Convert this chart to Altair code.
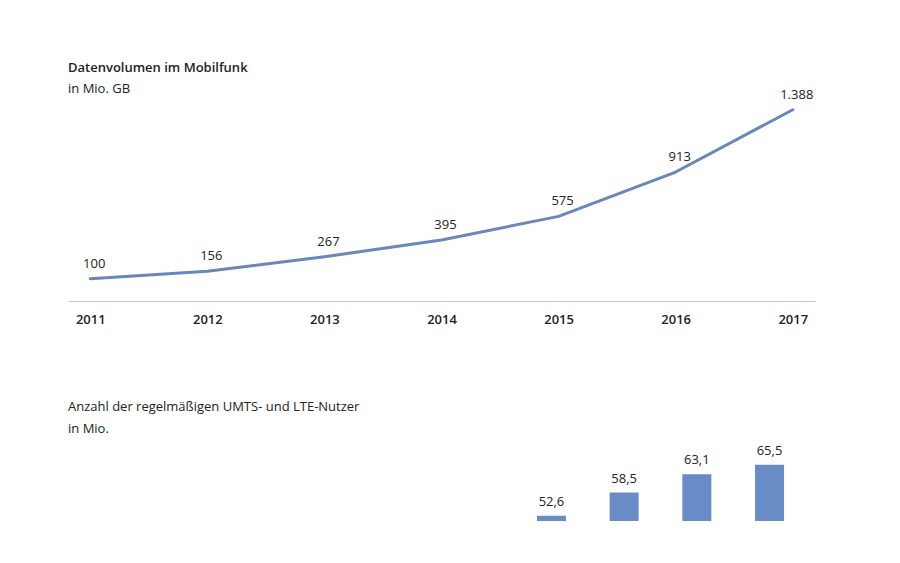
import altair as alt
import pandas as pd

years = [2011, 2012, 2013, 2014, 2015, 2016, 2017]
volume = [100, 156, 267, 395, 575, 913, 1388]
volume_labels = ["100", "156", "267", "395", "575", "913", "1.388"]

user_years = [2014, 2015, 2016, 2017]
users = [52.6, 58.5, 63.1, 65.5]
user_labels = ["52,6", "58,5", "63,1", "65,5"]

FONT = "Open Sans"
LINE_COLOR = "#6b86b8"
BAR_COLOR = "#6a8cc6"

df1 = pd.DataFrame({"year": [str(y) for y in years], "value": volume, "label": volume_labels})
df2 = pd.DataFrame({"year": user_years, "value": users, "label": user_labels})

x1 = alt.X("year:O", scale=alt.Scale(type="point", padding=0.19),
           axis=alt.Axis(title=None, labelAngle=0, ticks=False, domainColor="#c8c8c8",
                         domainWidth=1.2, labelPadding=12, labelFont=FONT, labelFontSize=13,
                         labelFontWeight=600, labelColor="#222222", grid=False))
y1 = alt.Y("value:Q", scale=alt.Scale(domain=[-70, 1424], nice=False, zero=False), axis=None)

line = alt.Chart(df1).mark_line(color=LINE_COLOR, strokeWidth=3, interpolate="linear",
                                strokeJoin="round", strokeCap="round").encode(x=x1, y=y1)
txt1 = alt.Chart(df1).mark_text(dy=-15, dx=4, font=FONT, fontSize=13, color="#222222").encode(
    x=x1, y=y1, text="label:N")

top = alt.layer(line, txt1).properties(
    width=747, height=196,
    title=alt.TitleParams("Datenvolumen im Mobilfunk", subtitle="in Mio. GB", anchor="start",
                          font=FONT, fontSize=13, fontWeight=600, color="#222222",
                          subtitleFont=FONT, subtitleFontSize=13, subtitleColor="#222222",
                          subtitlePadding=8, offset=-7))

x2 = alt.X("year:Q", scale=alt.Scale(domain=[2007.417, 2017.557], nice=False, zero=False), axis=None)
y2 = alt.Y("value:Q", scale=alt.Scale(domain=[51.3, 70], nice=False, zero=False), axis=None)

bars = alt.Chart(df2).mark_bar(color=BAR_COLOR, size=29, clip=True).encode(x=x2, y=y2)
txt2 = alt.Chart(df2).mark_text(dy=-7, font=FONT, fontSize=13, color="#222222", baseline="bottom").encode(
    x=x2, y=y2, text="label:N")

bottom = alt.layer(bars, txt2).properties(
    width=747, height=74,
    title=alt.TitleParams("Anzahl der regelmäßigen UMTS- und LTE-Nutzer", subtitle="in Mio.", anchor="start",
                          font=FONT, fontSize=13, fontWeight="normal", color="#222222",
                          subtitleFont=FONT, subtitleFontSize=13, subtitleColor="#222222",
                          subtitlePadding=9, offset=9))

chart = alt.vconcat(top, bottom, spacing=74).properties(
    padding={"left": 60, "top": 53, "right": 10, "bottom": 10}
).configure(background="white").configure_view(strokeWidth=0, stroke="transparent")

chart.save("out.html", embed_options={"renderer": "svg", "actions": False})
